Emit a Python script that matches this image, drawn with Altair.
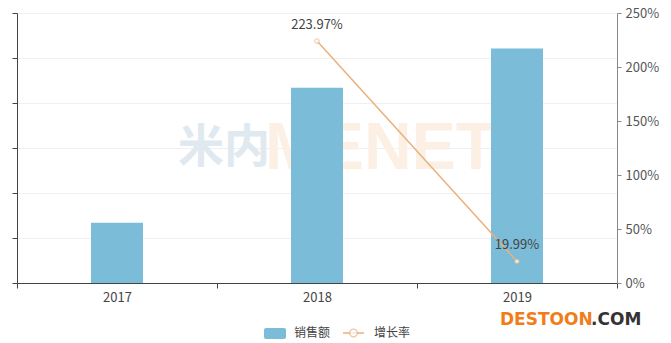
import altair as alt
import pandas as pd

# Yearly sales (relative units) and year-over-year growth rate
years = ["2017", "2018", "2019"]
sales = [1.34, 4.34, 5.21]
growth_years = ["2018", "2019"]
growth = [2.2397, 0.1999]
growth_labels = ["223.97%", "19.99%"]

sales_df = pd.DataFrame({"year": years, "sales": sales})
growth_df = pd.DataFrame({"year": growth_years, "growth": growth, "label": growth_labels})

BAR = "#7bbcd9"
LINE = "#eab07c"
FONT = "Noto Sans CJK SC"

# full-width bands so that interval ticks fall on the category boundaries
x_axis = alt.Axis(
    title=None, labelAngle=0, tickBand="extent",
    domainColor="#444", tickColor="#444", labelColor="#444", labelFontSize=13,
    labelFont=FONT, labelPadding=3, tickSize=5, grid=False,
)
x_scale = alt.Scale(domain=years, paddingInner=0, paddingOuter=0)
x_enc = alt.X("year:N", sort=years, scale=x_scale, axis=x_axis)

bars = alt.Chart(sales_df).mark_bar(color=BAR, width=alt.RelativeBandSize(0.26)).encode(
    x=x_enc,
    y=alt.Y(
        "sales:Q",
        scale=alt.Scale(domain=[0, 6], nice=False),
        axis=alt.Axis(
            title=None, values=[0, 1, 2, 3, 4, 5, 6], labels=False,
            domainColor="#444", tickColor="#444", tickSize=5,
            grid=True, gridColor="#f0f0f0",
        ),
    ),
)

y_right = alt.Y(
    "growth:Q",
    scale=alt.Scale(domain=[0, 2.5], nice=False),
    axis=alt.Axis(
        title=None, orient="right", format=".0%", values=[0, 0.5, 1, 1.5, 2, 2.5],
        domainColor="#888", tickColor="#888", tickSize=4, labelColor="#555",
        labelFontSize=13, labelFont=FONT, labelPadding=4, grid=False,
    ),
)

x_line = alt.X("year:N", sort=years)

line = alt.Chart(growth_df).mark_line(color=LINE, strokeWidth=1.5).encode(
    x=x_line, y=y_right
)
points = alt.Chart(growth_df).mark_point(
    shape="circle", filled=True, fill="white", stroke=LINE, strokeWidth=1, size=22
).encode(x=x_line, y=y_right)
labels = alt.Chart(growth_df).mark_text(
    dy=-16, fontSize=13, font=FONT, color="#444"
).encode(x=x_line, y=y_right, text="label:N")

one = pd.DataFrame({"k": [0]})

# faint watermark behind the bars
wm_cn = alt.Chart(one).mark_text(
    text="米内", font=FONT, fontWeight="bold", fontSize=46, color="#e0e9ef",
    align="left", baseline="middle",
).encode(x=alt.value(161), y=alt.value(135))
wm_en = alt.Chart(one).mark_text(
    text="MENET", font="Liberation Sans", fontWeight="bold", fontSize=66,
    color="#fcefe4", align="left", baseline="middle",
).encode(x=alt.value(248), y=alt.value(136))

# legend below the plot
sw = alt.Chart(one).mark_rect(color=BAR, cornerRadius=2).encode(
    x=alt.value(247), x2=alt.value(269), y=alt.value(315), y2=alt.value(326)
)
sw_txt = alt.Chart(one).mark_text(
    text="销售额", font=FONT, fontSize=12, color="#444", align="left", baseline="middle"
).encode(x=alt.value(277), y=alt.value(320))
lg_line = alt.Chart(one).mark_rule(color=LINE, strokeWidth=1.5).encode(
    x=alt.value(326), x2=alt.value(347), y=alt.value(320)
)
lg_pt = alt.Chart(one).mark_point(
    shape="circle", filled=True, fill="white", stroke=LINE, strokeWidth=1.2, size=60
).encode(x=alt.value(336.5), y=alt.value(320))
lg_txt = alt.Chart(one).mark_text(
    text="增长率", font=FONT, fontSize=12, color="#444", align="left", baseline="middle"
).encode(x=alt.value(357), y=alt.value(320))

# site mark in the bottom-right corner
site1 = alt.Chart(one).mark_text(
    text="DESTOON", font="DejaVu Sans", fontWeight="bold", fontSize=17,
    color="#f07d1a", align="left", baseline="middle",
).encode(x=alt.value(483), y=alt.value(307))
site2 = alt.Chart(one).mark_text(
    text=".COM", font="DejaVu Sans", fontWeight="bold", fontSize=17,
    color="#333333", align="left", baseline="middle",
).encode(x=alt.value(574), y=alt.value(307))

left_layer = alt.layer(wm_cn, wm_en, bars)
right_layer = alt.layer(line, points, labels)

chart = (
    alt.layer(left_layer, right_layer, sw, sw_txt, lg_line, lg_pt, lg_txt, site1, site2)
    .resolve_scale(y="independent")
    .properties(
        width=600, height=270,
        padding={"left": 17, "top": 13, "right": 54, "bottom": 60},
        autosize=alt.AutoSizeParams(type="none"),
        background="white",
    )
    .configure_view(stroke=None)
)

chart.save("out.html", embed_options={"renderer": "svg", "actions": False})
